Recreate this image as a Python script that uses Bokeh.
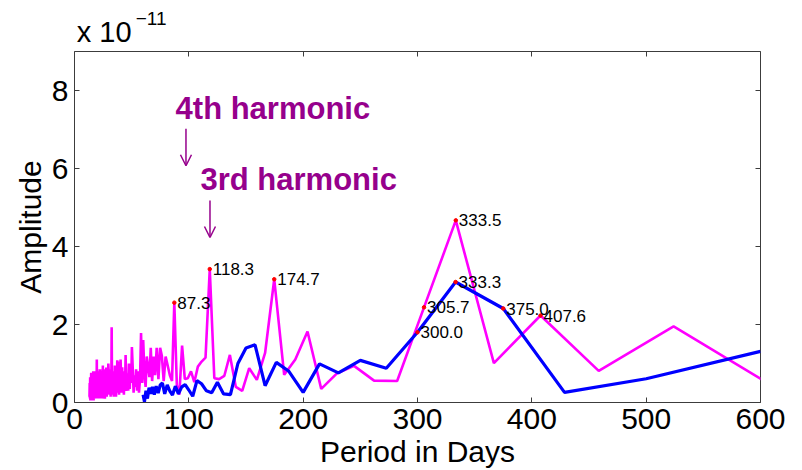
from bokeh.plotting import figure
from bokeh.models import (ColumnDataSource, Range1d, FixedTicker, LinearAxis,
                          Label, Arrow, OpenHead)
from bokeh.core.properties import value
from bokeh.embed import file_html
from bokeh.resources import INLINE

# Spectrum of the longer record (magenta): period in days, amplitude in units of 1e-11
period_long = [
    611.3, 524.0, 458.5, 407.6, 366.8, 333.5, 305.7, 282.2, 262.0, 244.5,
    229.3, 215.8, 203.8, 193.1, 183.4, 174.7, 166.7, 159.5, 152.8, 146.7,
    141.1, 135.9, 131.0, 126.5, 122.3, 118.3, 114.6, 111.2, 107.9, 104.8,
    101.9, 99.1, 96.5, 94.1, 91.7, 89.5, 87.3, 85.3, 83.4, 81.5,
    79.7, 78.0, 76.4, 74.9, 73.4, 71.9, 70.5, 69.2, 67.9, 66.7,
    65.5, 64.4, 63.2, 62.2, 61.1, 60.1, 59.2, 58.2, 57.3, 56.4,
    55.6, 54.7, 53.9, 53.2, 52.4, 51.7, 50.9, 50.2, 49.6, 48.9,
    48.3, 47.6, 47.0, 46.4, 45.9, 45.3, 44.7, 44.2, 43.7, 43.2,
    42.7, 42.2, 41.7, 41.2, 40.8, 40.3, 39.9, 39.4, 39.0, 38.6,
    38.2, 37.8, 37.4, 37.1, 36.7, 36.3, 36.0, 35.6, 35.3, 34.9,
    34.6, 34.3, 34.0, 33.7, 33.3, 33.0, 32.8, 32.5, 32.2, 31.9,
    31.6, 31.4, 31.1, 30.8, 30.6, 30.1, 29.6, 29.1, 28.7, 28.2,
    27.8, 27.4, 27.0, 26.6, 26.2, 25.8, 25.5, 25.1, 24.8, 24.5,
    24.1, 23.8, 23.5, 23.2, 22.9, 22.6, 22.4, 22.1, 21.8, 21.6,
    21.3, 21.1, 20.8, 20.6, 20.4, 20.2, 19.9, 19.7, 19.5, 19.3,
    19.1, 18.9, 18.7, 18.5, 18.3, 18.0, 17.6, 17.3, 17.0, 16.7,
    16.4, 16.1, 15.8, 15.5, 15.3, 15.0, 14.8, 14.6, 14.3, 14.1,
    13.9, 13.7, 13.5, 13.3, 13.1,
]
amp_long = [
    0.41, 1.95, 0.81, 2.23, 1.01, 4.67, 2.44, 0.55, 0.56, 0.94,
    0.74, 0.35, 1.82, 1.10, 0.71, 3.16, 1.27, 0.58, 0.88, 0.30,
    0.40, 1.22, 0.68, 0.60, 0.62, 3.42, 1.15, 1.05, 0.92, 0.52,
    0.80, 0.62, 0.60, 1.46, 0.20, 0.45, 2.56, 0.55, 0.70, 0.95,
    1.18, 0.55, 1.20, 1.40, 0.60, 1.40, 0.70, 1.18, 0.55, 1.40,
    0.65, 0.90, 1.18, 0.40, 0.75, 1.60, 0.50, 1.78, 0.60, 0.25,
    0.80, 0.30, 0.85, 0.40, 0.70, 0.25, 0.90, 1.42, 0.50, 0.85,
    0.35, 1.00, 0.30, 0.75, 0.40, 0.30, 1.22, 0.35, 0.80, 0.20,
    0.65, 0.30, 0.90, 0.25, 0.60, 1.10, 0.30, 1.05, 0.20, 0.70,
    0.35, 0.85, 1.08, 0.25, 0.60, 0.15, 0.75, 0.30, 0.95, 0.20,
    0.55, 0.15, 0.80, 0.35, 0.65, 0.20, 0.50, 1.93, 0.30, 0.70,
    0.15, 0.60, 0.25, 0.85, 0.20, 0.65, 1.00, 0.30, 0.75, 0.15,
    0.90, 0.25, 0.70, 0.10, 0.85, 0.30, 0.60, 0.10, 0.95, 0.20,
    0.70, 0.15, 0.80, 0.10, 0.65, 0.30, 0.85, 0.10, 0.75, 0.20,
    0.60, 0.10, 0.80, 0.15, 0.70, 0.10, 0.85, 0.20, 1.10, 0.15,
    0.75, 0.10, 0.60, 0.20, 0.80, 0.10, 0.70, 0.15, 0.65, 0.05,
    0.80, 0.10, 0.55, 0.15, 0.70, 0.05, 0.60, 0.76, 0.10, 0.55,
    0.05, 0.65, 0.10, 0.50, 0.15,
]

# Spectrum of the shorter record (blue)
period_short = [
    600.0, 500.0, 428.6, 375.0, 333.3, 300.0, 272.7, 250.0, 230.8, 214.3,
    200.0, 187.5, 176.5, 166.7, 157.9, 150.0, 142.9, 136.4, 130.4, 125.0,
    120.0, 115.4, 111.1, 107.1, 103.4, 100.0, 96.8, 93.8, 90.9, 88.2,
    85.7, 83.3, 81.1, 78.9, 76.9, 75.0, 73.2, 71.4, 69.8, 68.2,
    66.7, 65.2, 63.8, 62.5, 61.2, 60.0,
]
amp_short = [
    1.31, 0.61, 0.26, 2.41, 3.09, 1.80, 0.88, 1.08, 0.76, 0.99,
    0.26, 0.80, 1.03, 0.43, 1.48, 1.40, 1.00, 0.20, 0.22, 0.52,
    0.25, 0.30, 0.48, 0.56, 0.16, 0.32, 0.46, 0.40, 0.22, 0.42,
    0.19, 0.30, 0.45, 0.22, 0.50, 0.45, 0.24, 0.42, 0.20, 0.40,
    0.22, 0.38, 0.10, 0.30, 0.02, 0.20,
]

# Peaks that carry a period label
peaks_long = [87.3, 118.3, 174.7, 305.7, 333.5, 407.6]
peaks_short = [300.0, 333.3, 375.0]

x_ticks = [0, 100, 200, 300, 400, 500, 600]
y_ticks = [0, 2, 4, 6, 8]

FONT = "Liberation Sans"
HARMONIC_COLOR = "#96008c"
AXIS_COLOR = "#3c3c3c"

p = figure(width=802, height=470, output_backend="svg", toolbar_location=None,
           x_range=Range1d(0, 600), y_range=Range1d(0, 9),
           min_border_left=74, min_border_right=42,
           min_border_top=51, min_border_bottom=67)
p.background_fill_color = "white"
p.border_fill_color = "white"
p.outline_line_color = AXIS_COLOR
p.outline_line_width = 1
p.xgrid.visible = False
p.ygrid.visible = False

for ax in (p.xaxis[0], p.yaxis[0]):
    ax.axis_line_color = None
    ax.major_tick_in = 5
    ax.major_tick_out = 0
    ax.minor_tick_line_color = None
    ax.major_tick_line_color = AXIS_COLOR
    ax.major_label_text_font = FONT
    ax.major_label_text_font_size = "30px"
    ax.major_label_text_color = "black"
    ax.axis_label_text_font = FONT
    ax.axis_label_text_font_size = "30px"
    ax.axis_label_text_font_style = "normal"
    ax.axis_label_text_color = "black"
p.xaxis[0].ticker = FixedTicker(ticks=x_ticks)
p.yaxis[0].ticker = FixedTicker(ticks=y_ticks)
p.xaxis[0].major_label_standoff = 6
p.yaxis[0].major_label_standoff = 6
p.xaxis[0].axis_label = "Period in Days"
p.xaxis[0].axis_label_standoff = 3
p.yaxis[0].axis_label = "Amplitude"
p.yaxis[0].axis_label_standoff = 2

# Tick marks on the top and right edges of the box
top_axis = LinearAxis(ticker=FixedTicker(ticks=x_ticks))
right_axis = LinearAxis(ticker=FixedTicker(ticks=y_ticks))
for ax in (top_axis, right_axis):
    ax.axis_line_color = None
    ax.major_tick_in = 5
    ax.major_tick_out = 0
    ax.minor_tick_line_color = None
    ax.major_tick_line_color = AXIS_COLOR
    ax.major_label_text_font_size = "0px"
    ax.major_label_standoff = 0
p.add_layout(top_axis, "above")
p.add_layout(right_axis, "right")

# Exponent of the amplitude scale ("x 10" with a raised "-11") above the box
def text_axis(pos, text, size, standoff):
    ax = LinearAxis(ticker=FixedTicker(ticks=[pos]),
                    major_label_overrides={pos: text})
    ax.axis_line_color = None
    ax.major_tick_line_color = None
    ax.minor_tick_line_color = None
    ax.major_tick_in = 0
    ax.major_tick_out = 0
    ax.major_label_text_font = FONT
    ax.major_label_text_font_size = size
    ax.major_label_text_color = "black"
    ax.major_label_standoff = standoff
    return ax

p.add_layout(text_axis(26, "x 10", "29px", 4), "above")
p.add_layout(text_axis(67, "\u221211", "19px", -12), "above")

src_long = ColumnDataSource(dict(x=period_long, y=amp_long))
src_short = ColumnDataSource(dict(x=period_short, y=amp_short))
p.line("x", "y", source=src_long, line_color="#ff00ff", line_width=2.6)
p.line("x", "y", source=src_short, line_color="#0000ff", line_width=3.2)

# Labelled peaks: small red dot and the period next to it
lx, ly = [], []
for px, py in zip(period_long, amp_long):
    if px in peaks_long:
        lx.append(px)
        ly.append(py)
for px, py in zip(period_short, amp_short):
    if px in peaks_short:
        lx.append(px)
        ly.append(py)
src_peaks = ColumnDataSource(dict(x=lx, y=ly, text=[f"{v:.1f}" for v in lx]))
p.scatter("x", "y", source=src_peaks, size=3.5, color="red", marker="circle")
p.text("x", "y", text="text", source=src_peaks, x_offset=3,
       text_baseline="middle", text_align="left",
       text_font=value(FONT), text_font_size="17px", text_color="black")

# Harmonic annotations
p.add_layout(Label(x=88.4, y=7.53, text="4th harmonic", text_font=FONT,
                   text_font_size="31px", text_font_style="bold",
                   text_color=HARMONIC_COLOR, text_baseline="alphabetic"))
p.add_layout(Label(x=110.2, y=5.71, text="3rd harmonic", text_font=FONT,
                   text_font_size="31px", text_font_style="bold",
                   text_color=HARMONIC_COLOR, text_baseline="alphabetic"))
p.add_layout(Arrow(x_start=97.5, y_start=7.02, x_end=97.5, y_end=6.07,
                   line_color=HARMONIC_COLOR, line_width=1.5,
                   end=OpenHead(size=11, line_color=HARMONIC_COLOR, line_width=1.5)))
p.add_layout(Arrow(x_start=118.5, y_start=5.18, x_end=118.5, y_end=4.23,
                   line_color=HARMONIC_COLOR, line_width=1.5,
                   end=OpenHead(size=11, line_color=HARMONIC_COLOR, line_width=1.5)))

open("out.html", "w").write(file_html(p, INLINE))
